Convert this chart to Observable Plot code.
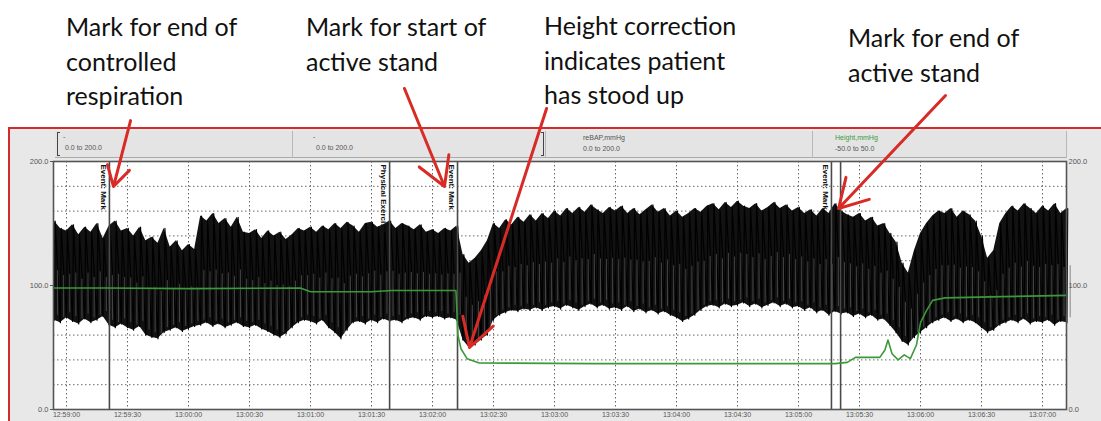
<!DOCTYPE html>
<html>
<head>
<meta charset="utf-8">
<script src="https://cdn.jsdelivr.net/npm/d3@7"></script>
<script src="https://cdn.jsdelivr.net/npm/@observablehq/plot@0.6"></script>
<style>
  html, body { margin: 0; padding: 0; background: #fff; }
  #wrap { position: relative; width: 1101px; height: 421px; overflow: hidden; font-family: "Liberation Sans", Arial, sans-serif; }
  .anno { position: absolute; font-family: Lato, "Open Sans", sans-serif; font-size: 25px; line-height: 34.5px; color: #111; white-space: nowrap; }
  #redbox { position: absolute; left: 8px; top: 127px; width: 1110px; height: 320px; border: 2px solid #d42a2a; border-right: none; background: #e8e8e8; box-sizing: border-box; }
  .panel { position: absolute; top: 131px; height: 27px; background: #e4e4e4; border-right: 1px solid #b8b8b8; border-bottom: 1px solid #aaa; box-sizing: border-box; }
  .hdr { position: absolute; font-size: 7px; color: #555; white-space: nowrap; font-family: "Liberation Sans", Arial, sans-serif; }
  .brk { position: absolute; top: 132px; height: 24px; width: 3px; border: 1px solid #444; box-sizing: border-box; }
  #chart { position: absolute; left: 0; top: 0; }
</style>
</head>
<body>
<div id="wrap">
  <div id="redbox"></div>
  <div class="panel" style="left:55px;width:238px;"></div>
  <div class="panel" style="left:293px;width:253px;"></div>
  <div class="panel" style="left:546px;width:267px;"></div>
  <div class="panel" style="left:813px;width:254px;"></div>
  <div class="brk" style="left:57px;border-right:none;"></div>
  <div class="brk" style="left:541px;border-left:none;"></div>
  <div class="hdr" style="left:63px;top:133px;">-</div>
  <div class="hdr" style="left:65px;top:144px;">0.0 to 200.0</div>
  <div class="hdr" style="left:313px;top:133px;">-</div>
  <div class="hdr" style="left:316px;top:144px;">0.0 to 200.0</div>
  <div class="hdr" style="left:583px;top:134px;">reBAP,mmHg</div>
  <div class="hdr" style="left:583px;top:145px;">0.0 to 200.0</div>
  <div class="hdr" style="left:835px;top:134px;color:#3a9a3a;">Height,mmHg</div>
  <div class="hdr" style="left:835px;top:145px;">-50.0 to 50.0</div>
  <div id="chart"></div>
  <div class="anno" style="left:66px;top:9px;">Mark for end of<br>controlled<br>respiration</div>
  <div class="anno" style="left:306px;top:9px;">Mark for start of<br>active stand</div>
  <div class="anno" style="left:544px;top:8px;">Height correction<br>indicates patient<br>has stood up</div>
  <div class="anno" style="left:848px;top:20px;">Mark for end of<br>active stand</div>
</div>
<script>
// ---- data (seconds after 12:59:00) ----
const sampleStart = -6;   // first sample time (s)
const sampleStep = 3;     // sample spacing (s)

// upper envelope (systolic peaks) of reBAP, mmHg
const bpHigh = [
  152,146,144,149,141,147,143,150,138,148,152,144,
  146,140,147,136,139,134,146,131,136,128,
  133,129,156,152,158,150,154,147,155,143,
  142,145,138,144,140,143,137,141,146,144,
  147,143,148,145,150,146,151,148,143,150,
  151,147,149,152,146,150,148,145,149,143,
  145,142,146,144,148,125,118,122,128,136,
  150,146,153,149,155,151,157,152,158,154,
  160,156,162,158,163,159,165,161,158,163,
  160,164,158,162,157,161,165,159,162,156,
  160,155,158,162,159,164,166,161,167,163,
  168,164,162,166,160,163,167,162,165,160,
  163,158,161,156,162,158,166,160,157,155,
  158,152,155,148,150,142,135,118,110,128,
  142,150,156,160,158,162,155,160,157,152,
  140,122,128,150,158,164,160,166,162,158,
  164,160,166,158,162
];
// lower envelope (diastolic troughs) of reBAP, mmHg
const bpLow = [
  72,70,74,71,69,73,70,72,75,68,66,69,
  66,64,67,60,58,57,62,64,66,63,
  65,67,68,70,67,69,66,68,70,67,
  66,68,65,63,60,58,61,66,70,72,
  71,69,72,66,62,57,64,70,71,69,
  72,70,73,71,72,70,73,74,72,75,
  74,75,73,74,72,56,50,52,56,60,
  72,76,78,80,79,81,80,82,80,82,
  83,81,84,82,80,83,85,82,84,81,
  82,80,83,79,81,78,80,77,79,76,
  74,71,73,76,80,83,84,82,85,83,
  84,86,83,85,82,84,86,83,85,82,
  83,80,82,78,80,76,79,77,78,75,
  77,74,76,72,73,68,62,55,52,58,
  62,66,70,72,74,71,73,70,72,70,
  66,62,64,68,70,72,70,73,69,71,
  70,72,68,71,70
];

// Height channel (green)
const heightTimes  = [-6.4, 20, 60, 115, 120, 150, 160, 191.5, 192.5, 194, 197, 203, 260, 330, 378, 384, 388, 400, 402.5, 404, 406, 409, 412, 415, 418, 420, 423, 426, 432, 460, 491.8];
const heightValues = [  98, 98, 97.5, 98, 95, 95, 96, 96,   60,   49,  41,  37.5, 37, 37,  37,  38,  42,  42,  48,    56,  45,  40,  44,  41,  52,  70,  80,  88,  90,  91,  92];

// event marks
const eventTimes  = [21.1, 158.9, 192.3, 376.2, 380.7];
const eventLabels = ["Event: Mark", "Physical Exercise", "Event: Mark", "Event: Mark", ""];

// annotation arrows (time s, mmHg)
const arrowFromT = [31.5, 166.2, 236.1, 432.3];
const arrowFromV = [233, 258.9, 242.7, 253.2];
const arrowToT   = [23.1, 185.9, 198.2, 379.7];
const arrowToV   = [179.8, 179.8, 50, 162.1];

// axes
const xTicks = [0, 30, 60, 90, 120, 150, 180, 210, 240, 270, 300, 330, 360, 390, 420, 450, 480];
const xTickLabels = ["12:59:00","12:59:30","13:00:00","13:00:30","13:01:00","13:01:30","13:02:00","13:02:30","13:03:00","13:03:30","13:04:00","13:04:30","13:05:00","13:05:30","13:06:00","13:06:30","13:07:00"];
const yTicks = [0, 100, 200];
const yTickLabels = ["0.0", "100.0", "200.0"];
const yGrid = [20, 40, 60, 80, 100, 120, 140, 160, 180];

// ---- build tables ----
const bp = bpHigh.map((h, i) => ({t: sampleStart + i * sampleStep, hi: h, lo: bpLow[i]}));
// pulse shape: fast upstroke to the peak, slower fall to the next trough
const wave = bp.flatMap(d => [{t: d.t, v: d.lo}, {t: d.t + 0.4, v: d.hi}]);
const height = heightTimes.map((t, i) => ({t, v: heightValues[i]}));
const events = eventTimes.map((t, i) => ({t, label: eventLabels[i]}));
const arrows = arrowFromT.map((t, i) => ({x1: t, y1: arrowFromV[i], x2: arrowToT[i], y2: arrowToV[i]}));

const chart = Plot.plot({
  width: 1101,
  height: 421,
  marginTop: 161,
  marginBottom: 12,
  marginLeft: 53,
  marginRight: 35,
  style: {background: "transparent", overflow: "visible", fontFamily: "Liberation Sans, Arial, sans-serif"},
  x: {domain: [-6.4, 491.8]},
  y: {domain: [0, 200]},
  marks: [
    Plot.frame({fill: "white", stroke: "none"}),
    Plot.ruleY(yGrid, {stroke: "#666", strokeWidth: 1, strokeDasharray: "1.5,2.5"}),
    Plot.ruleX(xTicks, {stroke: "#666", strokeWidth: 1, strokeDasharray: "1.5,2.5"}),
    Plot.areaY(bp, {x: "t", y1: "lo", y2: "hi", fill: "#121212"}),
    Plot.line(wave, {x: "t", y: "v", stroke: "#000", strokeWidth: 1.2}),
    Plot.ruleX(bp, {x: d => d.t + 1.6, y1: d => d.lo + 4, y2: d => (d.lo + d.hi) / 2, stroke: "#5c5c5c", strokeWidth: 0.7}),
    Plot.ruleX(events, {x: "t", stroke: "#4a4a4a", strokeWidth: 1.6}),
    Plot.text(events, {x: "t", y: 200, text: "label", rotate: 90, textAnchor: "start", dx: -6, dy: 3, fontSize: 8, fontWeight: "bold", fill: "#111"}),
    Plot.line(height, {x: "t", y: "v", stroke: "#3a9a3a", strokeWidth: 1.6}),
    Plot.frame({stroke: "#555", strokeWidth: 1.6}),
    Plot.axisY({ticks: yTicks, anchor: "left", tickSize: 3, tickPadding: 2, fontSize: 7.5, color: "#555", label: null, tickFormat: d => yTickLabels[yTicks.indexOf(d)]}),
    Plot.axisY({ticks: yTicks, anchor: "right", tickSize: 0, tickPadding: 2, fontSize: 7.5, color: "#555", label: null, tickFormat: d => yTickLabels[yTicks.indexOf(d)]}),
    Plot.axisX({ticks: xTicks, anchor: "bottom", tickSize: 0, tickPadding: 2.5, fontSize: 7, color: "#555", label: null, tickFormat: d => xTickLabels[xTicks.indexOf(d)]}),
    Plot.arrow(arrows, {x1: "x1", y1: "y1", x2: "x2", y2: "y2", stroke: "#d92b25", strokeWidth: 3, headLength: 16, bend: false})
  ]
});
document.getElementById("chart").appendChild(chart);
</script>
</body>
</html>
